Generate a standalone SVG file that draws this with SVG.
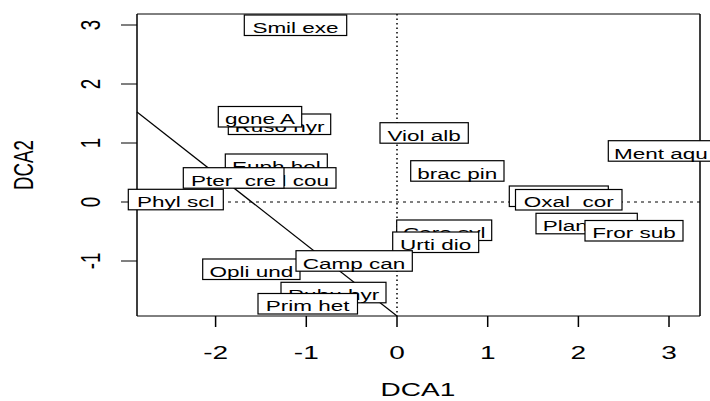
<svg xmlns="http://www.w3.org/2000/svg" width="710" height="401" viewBox="0 0 710 401">
<style>
.lb rect{fill:#fff;stroke:#000;stroke-width:1.2}
.lb text,.ax{font-family:"Liberation Sans",Arial,sans-serif;fill:#000}
.lb text{font-size:15px;text-anchor:middle}
.ax{font-size:18.7px;text-anchor:middle}
.tk{stroke:#000;fill:none}
</style>
<rect width="710" height="401" fill="#fff"/>
<g id="connectors" fill="none" stroke="#000">
<line x1="397" y1="14" x2="397" y2="316" stroke-width="1.5" stroke-dasharray="1.5,3"/>
<line x1="137" y1="202" x2="700" y2="202" stroke-width="1" stroke-dasharray="3,4"/>
<line x1="137" y1="112" x2="397" y2="316" stroke-width="1.2"/>
</g>
<g id="axes">
<path class="tk" d="M137,14H700M137,316H700" stroke-width="1"/>
<path class="tk" d="M137,14V316M700,14V316" stroke-width="1.5"/>
<path class="tk" stroke-width="1.5" d="M215.6,316v11M306.3,316v11M397,316v11M487.7,316v11M578.4,316v11M669,316v11"/>
<path class="tk" stroke-width="1" d="M137,25h-16M137,84h-16M137,143h-16M137,202h-16M137,261h-16"/>
<text class="ax" transform="translate(215.6,358.5) scale(1.5,1)">-2</text>
<text class="ax" transform="translate(306.3,358.5) scale(1.5,1)">-1</text>
<text class="ax" transform="translate(397,358.5) scale(1.5,1)">0</text>
<text class="ax" transform="translate(487.7,358.5) scale(1.5,1)">1</text>
<text class="ax" transform="translate(578.4,358.5) scale(1.5,1)">2</text>
<text class="ax" transform="translate(669,358.5) scale(1.5,1)">3</text>
<text class="ax" transform="translate(100,25) scale(1.5,1) rotate(-90)">3</text>
<text class="ax" transform="translate(100,84) scale(1.5,1) rotate(-90)">2</text>
<text class="ax" transform="translate(100,143) scale(1.5,1) rotate(-90)">1</text>
<text class="ax" transform="translate(100,202) scale(1.5,1) rotate(-90)">0</text>
<text class="ax" transform="translate(100,261) scale(1.5,1) rotate(-90)">-1</text>
<text class="ax" transform="translate(418,396) scale(1.5,1)">DCA1</text>
<text class="ax" transform="translate(33.3,165) scale(1.5,1) rotate(-90)">DCA2</text>
</g>
<g id="smil" class="lb"><rect x="244.3" y="15" width="102.4" height="20.5"/><text transform="translate(295.5,32.8) scale(1.5,1)">Smil exe</text></g>
<g id="ruso" class="lb"><rect x="228.3" y="114" width="102.4" height="20.5"/><text transform="translate(279.5,132) scale(1.5,1)">Ruso hyr</text></g>
<g id="gone" class="lb"><rect x="218.3" y="106.5" width="83.4" height="20.5"/><text transform="translate(260,124.3) scale(1.5,1)">gone A</text></g>
<g id="viol" class="lb"><rect x="380" y="122.7" width="88.3" height="20.5"/><text transform="translate(424.2,140.5) scale(1.5,1)">Viol alb</text></g>
<g id="ment" class="lb"><rect x="608.3" y="140.7" width="108" height="20.5"/><text transform="translate(661,158.5) scale(1.5,1)">Ment aqu</text></g>
<g id="brac" class="lb"><rect x="410.7" y="160.7" width="93.3" height="20.5"/><text transform="translate(457.3,178.5) scale(1.5,1)">brac pin</text></g>
<g id="euph" class="lb"><rect x="225.3" y="154" width="102" height="20.5"/><text transform="translate(276.3,171.8) scale(1.5,1)">Euph hel</text></g>
<g id="cycl" class="lb"><rect x="235.7" y="167.7" width="100.3" height="20.5"/><text transform="translate(285.9,185.5) scale(1.5,1)">Cycl cou</text></g>
<g id="pter" class="lb"><rect x="183.3" y="167.7" width="100.7" height="20.5"/><text xml:space="preserve" transform="translate(233.6,185.5) scale(1.5,1)">Pter  cre</text></g>
<g id="phyl" class="lb"><rect x="128.3" y="189.3" width="95" height="20.5"/><text transform="translate(175.8,207.1) scale(1.5,1)">Phyl scl</text></g>
<g id="hid" class="lb"><rect x="509.3" y="186" width="99" height="20.5"/></g>
<g id="oxal" class="lb"><rect x="515.5" y="189.5" width="106.5" height="20.5"/><text xml:space="preserve" transform="translate(568.7,207.3) scale(1.5,1)">Oxal  cor</text></g>
<g id="plan" class="lb"><rect x="536" y="213.3" width="101.3" height="20.5"/><text transform="translate(586.6,231.1) scale(1.5,1)">Plan maj</text></g>
<g id="fror" class="lb"><rect x="585" y="220.5" width="98" height="20.5"/><text transform="translate(634,238.3) scale(1.5,1)">Fror sub</text></g>
<g id="care" class="lb"><rect x="396.7" y="220" width="95" height="20.5"/><text transform="translate(444.2,237.8) scale(1.5,1)">Care syl</text></g>
<g id="urti" class="lb"><rect x="392.7" y="232" width="86" height="20.5"/><text transform="translate(435.7,249.8) scale(1.5,1)">Urti dio</text></g>
<g id="opli" class="lb"><rect x="202.7" y="259" width="97.3" height="20.5"/><text transform="translate(251.3,276.8) scale(1.5,1)">Opli und</text></g>
<g id="camp" class="lb"><rect x="296" y="250.7" width="116.3" height="20.5"/><text transform="translate(354.1,268.5) scale(1.5,1)">Camp can</text></g>
<g id="rubu" class="lb"><rect x="281" y="282.3" width="105" height="20.5"/><text transform="translate(333.5,300.1) scale(1.5,1)">Rubu hyr</text></g>
<g id="prim" class="lb"><rect x="258" y="293.5" width="99.5" height="20.5"/><text transform="translate(307.7,311.3) scale(1.5,1)">Prim het</text></g>
</svg>
